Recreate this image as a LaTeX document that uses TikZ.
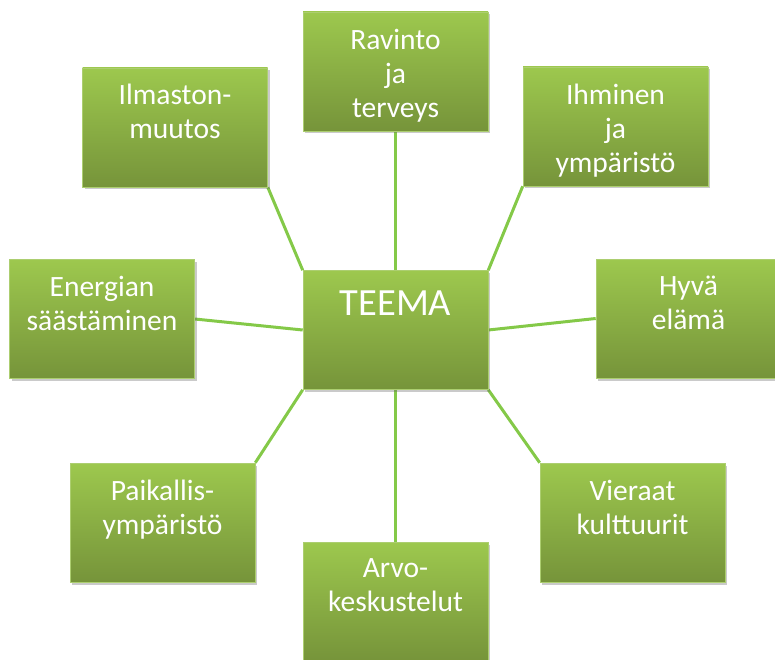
\documentclass[tikz,border=0pt]{standalone}
\usepackage{fontspec}
\setmainfont{Carlito}
\usetikzlibrary{shadows,backgrounds}
\definecolor{boxtop}{RGB}{157,200,78}
\definecolor{boxbot}{RGB}{118,148,58}
\definecolor{linkgreen}{RGB}{132,201,72}
\definecolor{boxedge}{RGB}{172,206,112}
\begin{document}
\begin{tikzpicture}[x=1pt,y=-1pt,
 topic/.style={rectangle, minimum width=185pt, minimum height=119pt, inner sep=0pt,
   top color=boxtop, bottom color=boxbot, draw=boxedge, line width=0.6pt,
   drop shadow={shadow xshift=2pt, shadow yshift=-2.5pt, opacity=0.35, fill=black!60}},
 lbl/.style={anchor=north, inner sep=0pt, text=white, align=center, font=\fontsize{29.5}{34}\selectfont},
 biglbl/.style={anchor=north, inner sep=0pt, text=white, align=center, font=\fontsize{38.5}{42}\selectfont},
 link/.style={draw=linkgreen, line width=3pt}]
\useasboundingbox (0,0) rectangle (775,660);
\node[topic] (rav) at (395.5,71.5) {};
\node[topic] (ihm) at (615.5,126.5) {};
\node[topic] (ilm) at (175,127.5) {};
\node[topic] (en) at (102,319) {};
\node[topic] (te) at (395.5,330) {};
\node[topic] (hy) at (688.5,318.5) {};
\node[topic] (pa) at (162.5,522.5) {};
\node[topic] (vi) at (632.5,522.5) {};
\node[topic] (ar) at (395.5,601.5) {};
\node[lbl] (ravT) at ([yshift=-17pt]rav.north) {Ravinto\\ja\\terveys};
\node[lbl] (ihmT) at ([yshift=-17pt]ihm.north) {Ihminen\\ja\\ympäristö};
\node[lbl] (ilmT) at ([yshift=-16pt]ilm.north) {Ilmaston-\\muutos};
\node[lbl] (enT) at ([yshift=-17pt]en.north) {Energian\\säästäminen};
\node[biglbl] (teT) at ([yshift=-20pt]te.north) {TEEMA};
\node[lbl] (hyT) at ([yshift=-17pt]hy.north) {Hyvä\\elämä};
\node[lbl] (paT) at ([yshift=-17pt]pa.north) {Paikallis-\\ympäristö};
\node[lbl] (viT) at ([yshift=-17pt]vi.north) {Vieraat\\kulttuurit};
\node[lbl] (arT) at ([yshift=-17pt]ar.north) {Arvo-\\keskustelut};
\begin{pgfonlayer}{background}
\draw[link] (rav.south) -- (te.north);
\draw[link] (ihm.south west) -- (te.north east);
\draw[link] (ilm.south east) -- (te.north west);
\draw[link] (en.east) -- (te.west);
\draw[link] (hy.west) -- (te.east);
\draw[link] (pa.north east) -- (te.south west);
\draw[link] (vi.north west) -- (te.south east);
\draw[link] (ar.north) -- (te.south);
\end{pgfonlayer}
\end{tikzpicture}
\end{document}
